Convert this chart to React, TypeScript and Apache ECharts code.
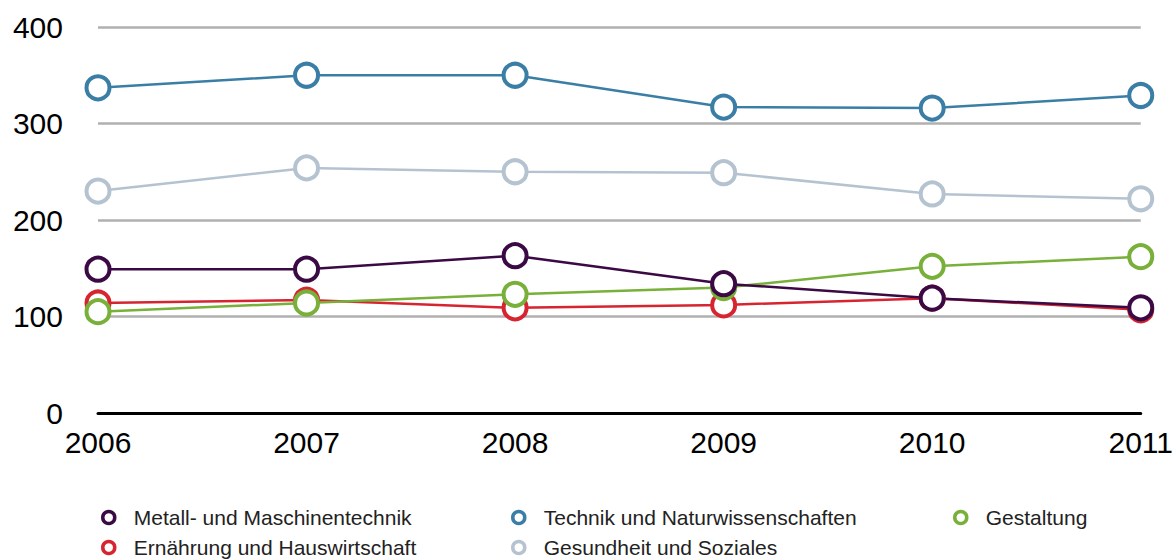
import React, { useEffect, useRef } from "react";
import * as echarts from "echarts";

const years = ["2006", "2007", "2008", "2009", "2010", "2011"];
const metall = [149, 149, 163, 134, 119, 109];
const technik = [337, 350, 350, 317, 316, 329];
const gestaltung = [105, 114, 123, 130, 152, 162];
const ernaehrung = [114, 117, 109, 112, 119, 107];
const gesundheit = [230, 254, 250, 249, 227, 222];

const N = {
  metall: "Metall- und Maschinentechnik",
  technik: "Technik und Naturwissenschaften",
  gestaltung: "Gestaltung",
  ernaehrung: "Ernährung und Hauswirtschaft",
  gesundheit: "Gesundheit und Soziales",
};

const C = {
  metall: "#3b0a45",
  technik: "#3a7ea6",
  gestaltung: "#78b03a",
  ernaehrung: "#d62430",
  gesundheit: "#b5c3d1",
};

const FONT = "'Liberation Sans', Arial, Helvetica, sans-serif";

function mk(name: string, data: number[], color: string) {
  return {
    name,
    type: "line",
    data,
    symbol: "circle",
    symbolSize: 23,
    lineStyle: { color, width: 2.5 },
    itemStyle: { color: "#fff", borderColor: color, borderWidth: 4, opacity: 1 },
  };
}

export default function App() {
  const ref = useRef<HTMLDivElement>(null);
  useEffect(() => {
    document.body.style.margin = "0";
    const chart = echarts.init(ref.current!, undefined, { renderer: "svg" });
    const lg = (name: string, left: number, top: number) => ({
      orient: "horizontal",
      left,
      top,
      icon: "circle",
      itemWidth: 40,
      itemHeight: 12,
      itemStyle: { borderWidth: 3.5 },
      textStyle: { fontFamily: FONT, fontSize: 21, color: "#222" },
      selectedMode: false,
      data: [name],
    });
    chart.setOption({
      animation: false,
      backgroundColor: "#fff",
      grid: { left: 98, right: 27, top: 27, bottom: 146, containLabel: false },
      xAxis: {
        type: "category",
        data: years,
        boundaryGap: false,
        axisLine: { show: true, lineStyle: { color: "#000", width: 3 } },
        axisTick: { show: false },
        axisLabel: { fontFamily: FONT, fontSize: 30, color: "#000", margin: 14 },
        splitLine: { show: false },
      },
      yAxis: {
        type: "value",
        min: 0,
        max: 400,
        interval: 100,
        axisLine: { show: false },
        axisTick: { show: false },
        axisLabel: { fontFamily: FONT, fontSize: 30, color: "#000", margin: 35 },
        splitLine: { lineStyle: { color: "#b0b0b0", width: 2.5 } },
      },
      legend: [
        lg(N.metall, 96, 502),
        lg(N.ernaehrung, 96, 532),
        lg(N.technik, 506, 502),
        lg(N.gesundheit, 506, 532),
        lg(N.gestaltung, 948, 502),
      ],
      series: [
        mk(N.technik, technik, C.technik),
        mk(N.gesundheit, gesundheit, C.gesundheit),
        mk(N.ernaehrung, ernaehrung, C.ernaehrung),
        mk(N.gestaltung, gestaltung, C.gestaltung),
        mk(N.metall, metall, C.metall),
      ],
    });
    return () => chart.dispose();
  }, []);
  return <div ref={ref} style={{ width: 1176, height: 559 }} />;
}
